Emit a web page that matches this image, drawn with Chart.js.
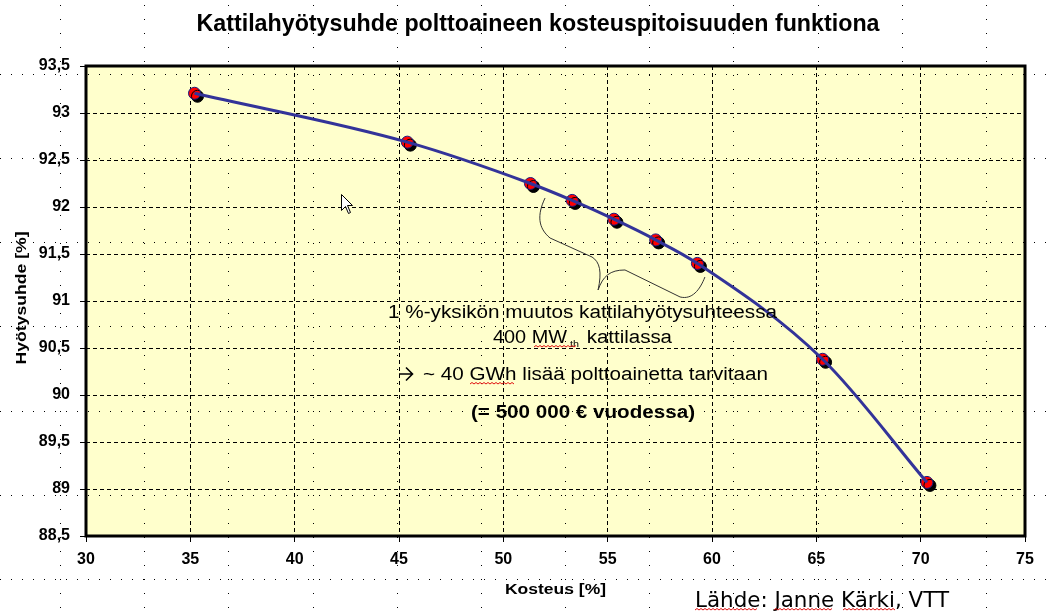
<!DOCTYPE html>
<html><head><meta charset="utf-8">
<script src="https://cdn.jsdelivr.net/npm/chart.js@4/dist/chart.umd.min.js"></script>
<style>html,body{margin:0;padding:0;background:#fff;overflow:hidden}#c{display:block}</style>
</head><body>
<canvas id="c" width="1052" height="616"></canvas>
<script>
// ---- data ----
const moisture   = [35.2, 45.4, 51.3, 53.3, 55.3, 57.3, 59.3, 65.3, 70.3];
const efficiency = [93.21, 92.69, 92.25, 92.07, 91.87, 91.65, 91.40, 90.38, 89.07];
const xTickValues = [30, 35, 40, 45, 50, 55, 60, 65, 70, 75];
const yTickValues = [88.5, 89, 89.5, 90, 90.5, 91, 91.5, 92, 92.5, 93, 93.5];

const titleText = 'Kattilahyötysuhde polttoaineen kosteuspitoisuuden funktiona';
const xTitle = 'Kosteus [%]';
const yTitle = 'Hyötysuhde [%]';
const sourceText = 'Lähde: Janne Kärki, VTT';
const note1 = '1 %-yksikön muutos kattilahyötysuhteessa';
const note2a = '400 MW', note2sub = 'th', note2b = ' kattilassa';
const note3 = '~ 40 GWh lisää polttoainetta tarvitaan';
const note4 = '(= 500 000 € vuodessa)';

// brace annotation in data units (moisture, efficiency)
const braceLeft = [[52.0,92.096],[51.61,91.915],[51.66,91.777],[52.24,91.670],[54.25,91.468],[54.63,91.415],[54.73,91.309],[54.54,91.117]];
const braceRight = [[54.54,91.117],[54.78,91.266],[55.11,91.330],[55.83,91.330],[58.47,91.043],[59.04,91.011],[59.42,91.117],[59.66,91.255]];

const pts = moisture.map((m, i) => ({x: m, y: efficiency[i]}));
const SANS = '"Liberation Sans", Arial, sans-serif';

function drawFit(ctx, text, x, y, w, font, align) {
  ctx.save();
  ctx.font = font;
  const m = ctx.measureText(text).width;
  const sx = w / m;
  const left = align === 'center' ? x - w / 2 : x;
  ctx.translate(left, y);
  ctx.scale(sx, 1);
  ctx.textAlign = 'left';
  ctx.textBaseline = 'alphabetic';
  ctx.fillText(text, 0, 0);
  ctx.restore();
}
function wavy(ctx, x0, x1, y) {
  ctx.save();
  ctx.strokeStyle = '#e01010';
  ctx.lineWidth = 1;
  ctx.beginPath();
  let up = true;
  ctx.moveTo(x0, y);
  for (let x = x0 + 2; x <= x1; x += 2) { ctx.lineTo(x, up ? y - 1.5 : y); up = !up; }
  ctx.stroke();
  ctx.restore();
}

const deco = {
  id: 'deco',
  beforeDraw(chart) {
    const {ctx, chartArea: a} = chart;
    ctx.save();
    ctx.fillStyle = '#ffffff';
    ctx.fillRect(0, 0, chart.width, chart.height);
    ctx.fillStyle = '#FFFFCC';
    ctx.fillRect(a.left, a.top, a.right - a.left, a.bottom - a.top);
    // background dotted guide grid of the slide
    ctx.fillStyle = '#000';
    const cols = [60, 144, 228, 313, 397, 481, 565, 649, 733, 818, 902, 986];
    const rows = [74, 158, 242, 326, 411, 495, 579];
    rows.forEach(r => { for (let x = 0; x < chart.width; x += 11) ctx.fillRect(x, r, 1, 1); });
    cols.forEach(c => { for (let y = 5; y < chart.height; y += 14) ctx.fillRect(c, y, 1, 1); });
    ctx.restore();
  },
  beforeDatasetDraw(chart, args) {
    if (args.index === 1) {
      const ctx = chart.ctx;
      ctx.save();
      ctx.shadowColor = '#000';
      ctx.shadowOffsetX = 3;
      ctx.shadowOffsetY = 3;
      ctx.shadowBlur = 0;
    }
  },
  afterDatasetDraw(chart, args) {
    if (args.index === 1) chart.ctx.restore();
  },
  afterDraw(chart) {
    const {ctx, chartArea: a, scales: {x, y}} = chart;
    ctx.save();
    // frame
    ctx.strokeStyle = '#000';
    ctx.lineWidth = 3;
    ctx.strokeRect(a.left, a.top, a.right - a.left, a.bottom - a.top);

    // brace
    ctx.strokeStyle = '#333';
    ctx.lineWidth = 1;
    [braceLeft, braceRight].forEach(b => {
      const p = b.map(q => [x.getPixelForValue(q[0]), y.getPixelForValue(q[1])]);
      ctx.beginPath();
      ctx.moveTo(p[0][0], p[0][1]);
      ctx.bezierCurveTo(p[1][0], p[1][1], p[2][0], p[2][1], p[3][0], p[3][1]);
      ctx.lineTo(p[4][0], p[4][1]);
      ctx.bezierCurveTo(p[5][0], p[5][1], p[6][0], p[6][1], p[7][0], p[7][1]);
      ctx.stroke();
    });

    ctx.fillStyle = '#000';
    // title
    drawFit(ctx, titleText, 538, 31, 683, 'bold 24px ' + SANS, 'center');
    // axis titles
    drawFit(ctx, xTitle, 505, 594, 101, 'bold 14px ' + SANS, 'left');
    ctx.save();
    ctx.translate(26, 298);
    ctx.rotate(-Math.PI / 2);
    drawFit(ctx, yTitle, 0, 0, 133, 'bold 15px ' + SANS, 'center');
    ctx.restore();

    // notes
    drawFit(ctx, note1, 388, 318, 389, '18px ' + SANS, 'left');
    drawFit(ctx, note2a, 493, 343, 74, '18px ' + SANS, 'left');
    drawFit(ctx, note2sub, 570, 347, 9, '9px ' + SANS, 'left');
    drawFit(ctx, note2b, 581, 343, 91, '18px ' + SANS, 'left');
    // arrow symbol
    ctx.save();
    ctx.strokeStyle = '#000';
    ctx.lineWidth = 1.6;
    ctx.beginPath();
    ctx.moveTo(399, 374); ctx.lineTo(412, 374);
    ctx.moveTo(406, 367.5); ctx.lineTo(412.5, 374); ctx.lineTo(406, 380.5);
    ctx.stroke();
    ctx.restore();
    drawFit(ctx, note3, 423, 380, 345, '18px ' + SANS, 'left');
    drawFit(ctx, note4, 471, 418, 224, 'bold 18px ' + SANS, 'left');
    wavy(ctx, 534, 577, 347);
    wavy(ctx, 470, 515, 384);

    // source
    drawFit(ctx, sourceText, 695, 607, 254, '22px "DejaVu Sans", sans-serif', 'left');
    wavy(ctx, 695, 757, 610);
    wavy(ctx, 774, 833, 610);
    wavy(ctx, 843, 895, 610);

    // mouse pointer
    ctx.translate(341, 194);
    ctx.beginPath();
    const cur = [[0,0],[0,16],[4,12],[7,19],[9,18],[6,11],[11,11]];
    ctx.moveTo(cur[0][0] + 0.5, cur[0][1] + 0.5);
    cur.slice(1).forEach(c => ctx.lineTo(c[0] + 0.5, c[1] + 0.5));
    ctx.closePath();
    ctx.fillStyle = '#fff';
    ctx.fill();
    ctx.strokeStyle = '#000';
    ctx.lineWidth = 1;
    ctx.stroke();
    ctx.restore();
  }
};

const fmt = v => String(Math.round(v * 10) / 10).replace('.', ',');

new Chart(document.getElementById('c'), {
  type: 'scatter',
  data: {
    datasets: [
      {
        label: 'trend',
        data: pts,
        showLine: true,
        cubicInterpolationMode: 'monotone',
        borderColor: '#333399',
        borderWidth: 3,
        pointRadius: 0,
        fill: false,
        order: 0
      },
      {
        label: 'points',
        data: pts,
        showLine: false,
        pointRadius: 6,
        pointBackgroundColor: '#FF0000',
        pointBorderColor: '#1a1a80',
        pointBorderWidth: 1,
        order: 1
      }
    ]
  },
  options: {
    responsive: false,
    animation: false,
    events: [],
    layout: {padding: {top: 66, right: 27, left: 0, bottom: 0}},
    plugins: {legend: {display: false}, tooltip: {enabled: false}, title: {display: false}},
    scales: {
      x: {
        type: 'linear', min: 30, max: 75,
        afterBuildTicks: s => { s.ticks = xTickValues.map(v => ({value: v})); },
        afterFit: s => { s.height = 80; },
        grid: {color: '#000', lineWidth: 1, drawTicks: true, tickLength: 6, tickColor: '#000', tickWidth: 1, tickBorderDash: []},
        border: {display: false, dash: [4, 3]},
        ticks: {color: '#000', padding: 8, maxRotation: 0, font: {family: SANS, size: 16, weight: 'bold'}, callback: v => fmt(v)}
      },
      y: {
        type: 'linear', min: 88.5, max: 93.5,
        afterBuildTicks: s => { s.ticks = yTickValues.map(v => ({value: v})); },
        afterFit: s => { s.width = 86; },
        grid: {color: '#000', lineWidth: 1, drawTicks: true, tickLength: 6, tickColor: '#000', tickWidth: 1, tickBorderDash: []},
        border: {display: false, dash: [4, 3]},
        ticks: {color: '#000', padding: 10, font: {family: SANS, size: 16, weight: 'bold'}, callback: v => fmt(v)}
      }
    }
  },
  plugins: [deco]
});
</script>
</body></html>
